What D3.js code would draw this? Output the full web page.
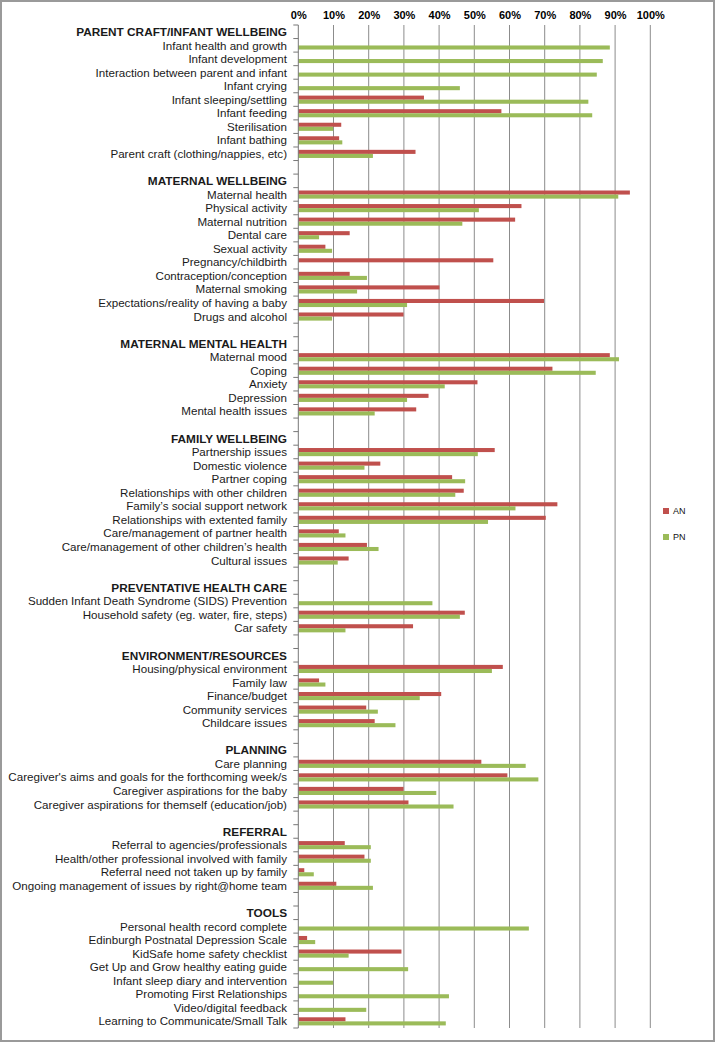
<!DOCTYPE html>
<html><head><meta charset="utf-8">
<script src="https://cdn.jsdelivr.net/npm/d3@7/dist/d3.min.js"></script>
<style>body{margin:0;background:#fff}svg{display:block}text{font-family:"Liberation Sans",Arial,sans-serif}</style>
</head><body><svg id="c" width="716" height="1043"></svg>
<script>
// rows: "H:" prefix = section header, "" = blank spacer row
const categories = [
"H:PARENT CRAFT/INFANT WELLBEING","Infant health and growth","Infant development","Interaction between parent and infant","Infant crying","Infant sleeping/settling","Infant feeding","Sterilisation","Infant bathing","Parent craft (clothing/nappies, etc)","",
"H:MATERNAL WELLBEING","Maternal health","Physical activity","Maternal nutrition","Dental care","Sexual activity","Pregnancy/childbirth","Contraception/conception","Maternal smoking","Expectations/reality of having a baby","Drugs and alcohol","",
"H:MATERNAL MENTAL HEALTH","Maternal mood","Coping","Anxiety","Depression","Mental health issues","",
"H:FAMILY WELLBEING","Partnership issues","Domestic violence","Partner coping","Relationships with other children","Family’s social support network","Relationships with extented family","Care/management of partner health","Care/management of other children’s health","Cultural issues","",
"H:PREVENTATIVE HEALTH CARE","Sudden Infant Death Syndrome (SIDS) Prevention","Household safety (eg. water, fire, steps)","Car safety","",
"H:ENVIRONMENT/RESOURCES","Housing/physical environment","Family law","Finance/budget","Community services","Childcare issues","",
"H:PLANNING","Care planning","Caregiver's aims and goals for the forthcoming week/s","Caregiver aspirations for the baby","Caregiver aspirations for themself (education/job)","",
"H:REFERRAL","Referral to agencies/professionals","Health/other professional involved with family","Referral need not taken up by family","Ongoing management of issues by right@home team","",
"H:TOOLS","Personal health record complete","Edinburgh Postnatal Depression Scale","KidSafe home safety checklist","Get Up and Grow healthy eating guide","Infant sleep diary and intervention","Promoting First Relationships","Video/digital feedback","Learning to Communicate/Small Talk"
];
const AN = [
null,0,0,0,0,35.7,57.7,12.2,11.6,33.3,null,
null,94.2,63.4,61.6,14.6,7.7,55.4,14.6,40.1,69.8,29.9,null,
null,88.5,72.2,50.9,37.0,33.5,null,
null,55.8,23.3,43.7,47.0,73.6,70.3,11.5,19.5,14.3,null,
null,0,47.3,32.6,null,
null,58.1,5.9,40.6,19.3,21.7,null,
null,52.0,59.4,29.9,31.3,null,
null,13.2,18.8,1.7,10.8,null,
null,0,2.5,29.3,0,0,0,0,13.4
];
const PN = [
null,88.5,86.5,84.8,45.9,82.4,83.5,9.9,12.5,21.2,null,
null,90.9,51.3,46.6,5.9,9.6,0,19.5,16.7,30.9,9.6,null,
null,91.1,84.5,41.6,30.9,21.7,null,
null,51.0,18.8,47.4,44.6,61.7,53.9,13.4,22.8,11.2,null,
null,38.1,45.9,13.4,null,
null,55.0,7.7,34.5,22.6,27.6,null,
null,64.6,68.2,39.2,44.1,null,
null,20.6,20.6,4.4,21.2,null,
null,65.5,4.8,14.3,31.2,9.9,42.8,19.3,41.9
];
const xTicks = [0,10,20,30,40,50,60,70,80,90,100];
const seriesNames = ["AN","PN"];
const colors = ["#C0504D","#9BBB59"];

const svg = d3.select("#c");
// outer frame
svg.append("rect").attr("x",1).attr("y",1).attr("width",713).attr("height",1040)
  .attr("fill","none").attr("stroke","#9a9a9a").attr("stroke-width",2);

const pLeft = 298.3, pRight = 650.3, pTop = 25, pBottom = 1028;
const x = d3.scaleLinear().domain([0,100]).range([pLeft,pRight]);
const idx = categories.map((d,i)=>i);
const y = d3.scaleBand().domain(idx).range([pTop,pBottom]);
const bw = y.bandwidth();
const inner = d3.scaleBand().domain([0,1]).range([bw*0.21, bw*0.81]);

// gridlines
svg.append("g").selectAll("line").data(xTicks.filter(t=>t>0)).join("line")
  .attr("x1",d=>x(d)).attr("x2",d=>x(d)).attr("y1",pTop).attr("y2",pBottom)
  .attr("stroke","#8c8c8c").attr("stroke-width",1);

// top axis labels
const xa = svg.append("g").attr("transform",`translate(0,${pTop})`)
  .call(d3.axisTop(x).tickValues(xTicks).tickFormat(d=>d+"%").tickSize(0).tickPadding(6));
xa.select(".domain").remove();
xa.selectAll("text").attr("font-size",11).attr("font-weight","bold").attr("fill","#000")
  .attr("font-family","Liberation Sans, Arial, sans-serif");

// bars
const data = [AN,PN];
data.forEach((ser,s)=>{
  svg.append("g").selectAll("rect").data(ser.map((v,i)=>({v,i})).filter(d=>d.v)).join("rect")
    .attr("x",x(0)).attr("y",d=>y(d.i)+inner(s)).attr("height",inner.bandwidth())
    .attr("width",d=>x(d.v)-x(0)).attr("fill",colors[s]);
});

// left axis with ticks at row boundaries
svg.append("line").attr("x1",pLeft).attr("x2",pLeft).attr("y1",pTop).attr("y2",pBottom)
  .attr("stroke","#777").attr("stroke-width",1);
svg.append("g").selectAll("line").data(d3.range(categories.length+1)).join("line")
  .attr("x1",pLeft-5).attr("x2",pLeft).attr("y1",d=>pTop+d*bw).attr("y2",d=>pTop+d*bw)
  .attr("stroke","#777");

// category labels
svg.append("g").selectAll("text").data(categories.map((c,i)=>({c,i})).filter(d=>d.c!=="")).join("text")
  .attr("x",287).attr("y",d=>y(d.i)+bw/2).attr("dy","0.36em").attr("text-anchor","end")
  .attr("font-size",d=>d.c.startsWith("H:")?11.8:11.6)
  .attr("font-weight",d=>d.c.startsWith("H:")?"bold":"normal")
  .attr("fill","#1a1a1a")
  .text(d=>d.c.replace(/^H:/,""));

// legend
const lg = svg.append("g").attr("transform","translate(663,506)");
seriesNames.forEach((n,i)=>{
  lg.append("rect").attr("x",0).attr("y",i*26+2).attr("width",6).attr("height",6).attr("fill",colors[i]);
  lg.append("text").attr("x",10).attr("y",i*26+5).attr("dy","0.35em").attr("font-size",9).attr("fill","#111").text(n);
});
</script></body></html>
